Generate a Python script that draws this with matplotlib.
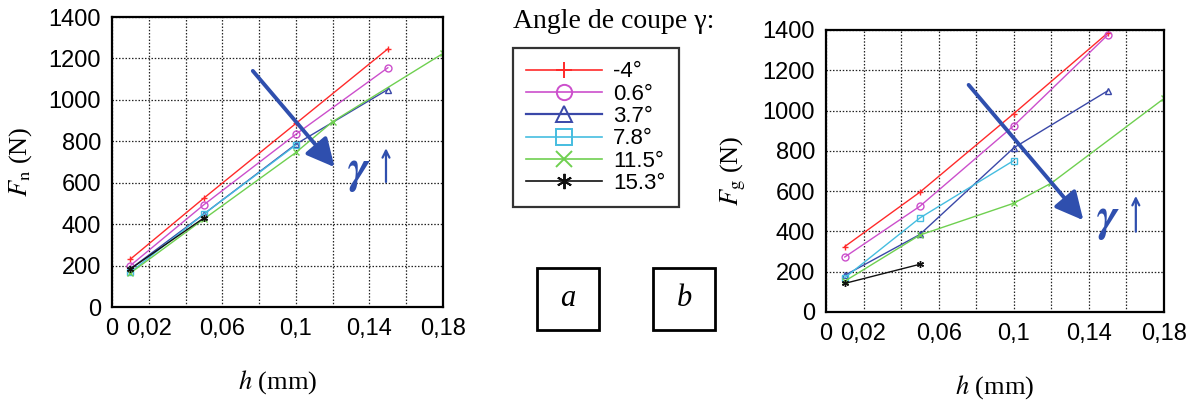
import numpy as np
import matplotlib
matplotlib.use('Agg')
import matplotlib.pyplot as plt
from matplotlib.lines import Line2D
from matplotlib.patches import FancyArrowPatch, Rectangle

plt.rcParams['font.family'] = ['Liberation Sans', 'DejaVu Sans']
plt.rcParams['mathtext.fontset'] = 'stix'

# épaisseur de copeau h (mm)
h = [0.01, 0.05, 0.10, 0.15]
h_green = [0.01, 0.05, 0.10, 0.12, 0.18]
h_black = [0.01, 0.05]

angles = ['-4°', '0.6°', '3.7°', '7.8°', '11.5°', '15.3°']

# effort normal Fn (N)
fn_m4 = [231, 526, 886, 1246]
fn_06 = [200, 494, 834, 1155]
fn_37 = [184, 449, 786, 1050]
fn_78 = [168, 449, 782]
fn_115 = [164, 425, 746, 895, 1224]
fn_153 = [184, 430]

# effort tangentiel Fg (N)
fg_m4 = [325, 595, 985, 1385]
fg_06 = [273, 525, 925, 1375]
fg_37 = [182, 385, 815, 1098]
fg_78 = [170, 467, 752]
fg_115 = [153, 382, 540, 640, 1060]
fg_153 = [142, 237]

colors = ['#ff2a2a', '#cc4fcc', '#3a48a8', '#45bde0', '#6fd050', '#111111']
markers = ['+', 'o', '^', 's', 'x', (6, 2, 0)]
ARROW_COL = '#2f4fae'


def style_axes(ax, ylabel):
    ax.set_xlim(0, 0.18)
    ax.set_ylim(0, 1400)
    ax.set_xticks(np.arange(0, 0.181, 0.02))
    ax.set_xticklabels(['0', '0,02', '', '0,06', '', '0,1', '', '0,14', '', '0,18'])
    ax.set_yticks(np.arange(0, 1401, 200))
    ax.tick_params(axis='both', labelsize=17, length=0, pad=8)
    ax.grid(True, color='#222222', linestyle=(0, (1.2, 1.4)), linewidth=0.9)
    for s in ax.spines.values():
        s.set_linewidth(1.6)
    ax.set_xlabel(r'$h$ (mm)', fontsize=19, family='Liberation Serif', labelpad=20)
    ax.set_ylabel(ylabel, fontsize=19, family='Liberation Serif', labelpad=10)


def plot_series(ax, series):
    for (xs, ys), c, m in zip(series, colors, markers):
        mfc = 'none' if m in ('o', '^', 's') else c
        ax.plot(xs, ys, color=c, lw=1.0, marker=m, ms=5, mfc=mfc, mec=c, mew=1.0)


def gamma_arrow(ax, start, end, gx, gy, ux, uy0, uy1):
    ax.add_patch(FancyArrowPatch(start, end, arrowstyle='-|>,head_length=1.0,head_width=0.5',
                                 color=ARROW_COL, lw=2.8, mutation_scale=17, zorder=5))
    ax.text(gx, gy, r'$\boldsymbol{\gamma}$', fontsize=34, color=ARROW_COL,
            ha='center', va='center', zorder=5)
    ax.annotate('', xy=(ux, uy1), xytext=(ux, uy0),
                arrowprops=dict(arrowstyle='->,head_length=0.5,head_width=0.25',
                                color=ARROW_COL, lw=1.6), zorder=5)


fig = plt.figure(figsize=(11.94, 4.01), dpi=100, facecolor='white')

# a : effort normal
ax1 = fig.add_axes([112 / 1194, 1 - 307 / 401, 331 / 1194, 290 / 401])
plot_series(ax1, [(h, fn_m4), (h, fn_06), (h, fn_37), (h[:3], fn_78),
                  (h_green, fn_115), (h_black, fn_153)])
style_axes(ax1, r'$F_{\mathrm{n}}$ (N)')
gamma_arrow(ax1, (0.0756, 1150), (0.122, 665), 0.134, 650, 0.149, 590, 780)

# b : effort tangentiel
ax2 = fig.add_axes([826 / 1194, 1 - 312 / 401, 338 / 1194, 282 / 401])
plot_series(ax2, [(h, fg_m4), (h, fg_06), (h, fg_37), (h[:3], fg_78),
                  (h_green, fg_115), (h_black, fg_153)])
style_axes(ax2, r'$F_{\mathrm{g}}$ (N)')
gamma_arrow(ax2, (0.075, 1138), (0.138, 445), 0.150, 455, 0.165, 385, 590)

# légende centrale
fig.text(614 / 1194, 1 - 22 / 401, 'Angle de coupe γ:', fontsize=20,
         family='Liberation Serif', ha='center', va='center')
handles = []
for c, m in zip(colors, markers):
    mfc = 'none' if m in ('o', '^', 's') else c
    handles.append(Line2D([], [], color=c, lw=1.6 if c == '#3a48a8' else 1.2, marker=m,
                          ms=11, mfc=mfc, mec=c, mew=1.4))
leg = fig.legend(handles, angles, loc='upper left',
                 bbox_to_anchor=(513 / 1194, 1 - 48 / 401), fontsize=16,
                 frameon=True, fancybox=False, edgecolor='black',
                 handlelength=3.4, handletextpad=0.5, labelspacing=0.06,
                 borderpad=0.6, borderaxespad=0)
leg.get_frame().set_linewidth(1.6)

# étiquettes a et b
for x0, lab in [(537, 'a'), (653, 'b')]:
    fig.patches.append(Rectangle((x0 / 1194, 1 - 330 / 401), 62 / 1194, 62 / 401,
                                 transform=fig.transFigure, fill=False,
                                 edgecolor='black', lw=2.0))
    fig.text((x0 + 31) / 1194, 1 - 299 / 401, lab, fontsize=22, style='italic',
             family='Liberation Serif', ha='center', va='center')

plt.savefig('out.png', dpi=100, facecolor='white')
plt.close()
